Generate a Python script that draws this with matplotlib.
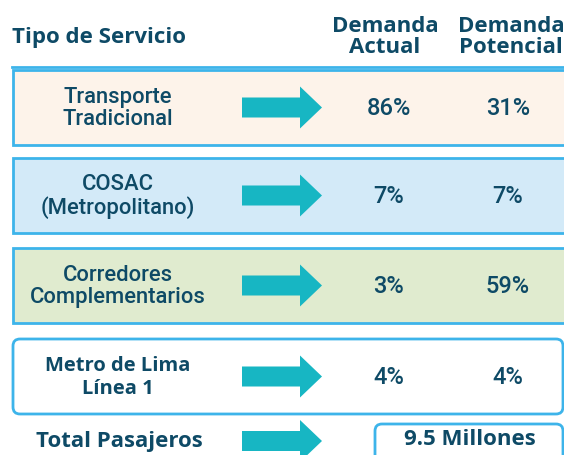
import matplotlib.pyplot as plt
from matplotlib.patches import FancyBboxPatch, Rectangle, FancyArrow

# Data
services = ["Transporte\nTradicional", "COSAC\n(Metropolitano)",
            "Corredores\nComplementarios", "Metro de Lima\nLínea 1"]
demanda_actual = ["86%", "7%", "3%", "4%"]
demanda_potencial = ["31%", "7%", "59%", "4%"]
box_fills = ["#fdf3ea", "#d3eaf8", "#e0ebcf", "#ffffff"]
total_label = "Total Pasajeros"
total_value = "9.5 Millones"

DARK = "#0e4a66"
EDGE = "#3db4ea"
ARROW = "#17b6c3"
FONT = "Open Sans"
MED = "Roboto"

fig = plt.figure(figsize=(5.64, 4.56), dpi=100)
ax = fig.add_axes([0, 0, 1, 1])
ax.set_xlim(0, 564)
ax.set_ylim(456, 0)
ax.axis("off")

# header
ax.text(12, 37, "Tipo de Servicio", fontsize=16, fontweight="bold",
        color=DARK, family=FONT, ha="left", va="center")
ax.text(385, 37, "Demanda\nActual", fontsize=16, fontweight="bold",
        color=DARK, family=FONT, ha="center", va="center", linespacing=1.05)
ax.text(511, 37, "Demanda\nPotencial", fontsize=16, fontweight="bold",
        color=DARK, family=FONT, ha="center", va="center", linespacing=1.05)
ax.plot([12, 564], [68, 68], color=EDGE, lw=2)

tops = [71, 159, 249, 340]
h = 75
for i, name in enumerate(services):
    y0 = tops[i]
    cy = y0 + h / 2
    if i < 3:
        ax.add_patch(Rectangle((13, y0), 552, h, facecolor=box_fills[i],
                               edgecolor=EDGE, lw=2))
        ax.text(118, cy, name, fontsize=15.8, fontweight="medium", color=DARK,
                family=MED, ha="center", va="center", linespacing=1.12)
    else:
        ax.add_patch(FancyBboxPatch((13, y0), 550, h,
                                    boxstyle="round,pad=0,rounding_size=7",
                                    facecolor=box_fills[i], edgecolor=EDGE, lw=2))
        ax.text(118, cy, name, fontsize=14.5, fontweight="bold", color=DARK,
                family=FONT, ha="center", va="center", linespacing=1.15)
    ax.add_patch(FancyArrow(242, cy, 80, 0, width=20, head_width=42,
                            head_length=22, length_includes_head=True,
                            color=ARROW, lw=0))
    ax.text(389, cy, demanda_actual[i], fontsize=17, fontweight="medium",
            color=DARK, family=MED, ha="center", va="center")
    ax.text(508, cy, demanda_potencial[i], fontsize=17, fontweight="medium",
            color=DARK, family=MED, ha="center", va="center")

# total row
ty = 442
ax.text(119, ty, total_label, fontsize=16, fontweight="bold", color=DARK,
        family=FONT, ha="center", va="center")
ax.add_patch(FancyArrow(242, ty, 80, 0, width=20, head_width=42,
                        head_length=22, length_includes_head=True,
                        color=ARROW, lw=0))
ax.add_patch(FancyBboxPatch((375, 425), 188, 50,
                            boxstyle="round,pad=0,rounding_size=7",
                            facecolor="white", edgecolor=EDGE, lw=2))
ax.text(470, 440, total_value, fontsize=16, fontweight="bold", color=DARK,
        family=FONT, ha="center", va="center")

fig.savefig("out.png", dpi=100)
